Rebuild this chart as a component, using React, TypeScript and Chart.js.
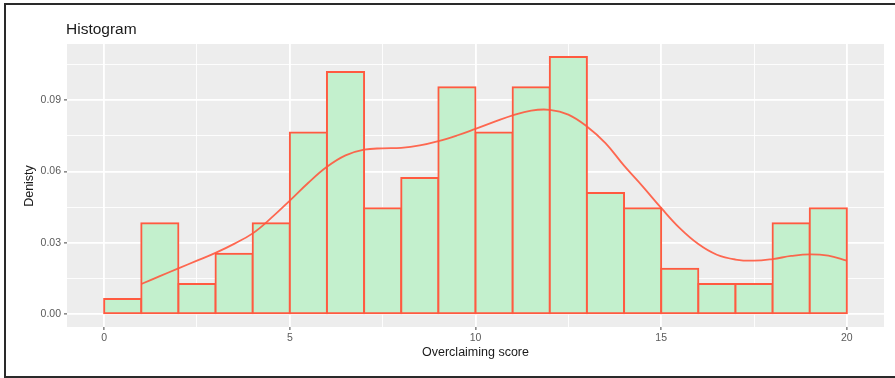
import React, { useEffect, useRef } from "react";
import { Chart, registerables } from "chart.js";

Chart.register(...registerables);

// Histogram bins (width 1) and counts per bin
const binStarts = [0, 1, 2, 3, 4, 5, 6, 7, 8, 9, 10, 11, 12, 13, 14, 15, 16, 17, 18, 19];
const binCounts = [1, 6, 2, 4, 6, 12, 16, 7, 9, 15, 12, 15, 17, 8, 7, 3, 2, 2, 6, 7];

// Kernel density estimate, sampled along the score axis
const densityX = [1, 1.5, 2, 2.5, 3, 3.5, 4, 4.5, 5, 5.5, 6, 6.5, 7, 7.5, 8, 8.5, 9, 9.5, 10, 10.5, 11, 11.5, 12, 12.5, 13, 13.5, 14, 14.5, 15, 15.5, 16, 16.5, 17, 17.5, 18, 18.5, 19, 19.5, 20];
const densityY = [0.0127, 0.016, 0.0193, 0.0225, 0.0258, 0.0296, 0.034, 0.0405, 0.0478, 0.0553, 0.062, 0.0668, 0.0692, 0.0698, 0.07, 0.071, 0.0728, 0.0752, 0.078, 0.0809, 0.0837, 0.0857, 0.086, 0.084, 0.079, 0.072, 0.0625, 0.0538, 0.0447, 0.0362, 0.0295, 0.025, 0.023, 0.0225, 0.0232, 0.0245, 0.0252, 0.0246, 0.0225];

const xTicks = [0, 2.5, 5, 7.5, 10, 12.5, 15, 17.5, 20];
const yTicks = [0, 0.015, 0.03, 0.045, 0.06, 0.075, 0.09, 0.105];

const FONT = "'Liberation Sans', Arial, sans-serif";
const W = 895;
const H = 378;

const panelPlugin = {
  id: "panelText",
  beforeDraw(chart: any) {
    const { ctx, chartArea: a } = chart;
    ctx.save();
    ctx.fillStyle = "#ededed";
    ctx.fillRect(a.left, a.top, a.right - a.left, a.bottom - a.top);
    ctx.restore();
  },
  afterDraw(chart: any) {
    const { ctx, chartArea: a } = chart;
    ctx.save();
    ctx.fillStyle = "#1a1a1a";
    ctx.font = `15.5px ${FONT}`;
    ctx.textAlign = "left";
    ctx.textBaseline = "middle";
    ctx.fillText("Histogram", a.left - 1, 30);

    ctx.font = `12.5px ${FONT}`;
    ctx.textAlign = "center";
    ctx.fillText("Overclaiming score", (a.left + a.right) / 2, 353);

    ctx.translate(30, 186);
    ctx.rotate(-Math.PI / 2);
    ctx.fillText("Denisty", 0, 0);
    ctx.restore();
  },
};

const isMajorX = (v: number) => Math.abs(v % 5) < 1e-9;
const isMajorY = (v: number) => Math.abs(Math.round(v / 0.03) * 0.03 - v) < 1e-9;
const tickVal = (c: any) => (c && c.tick ? Number(c.tick.value) : NaN);

export default function App() {
  const ref = useRef<HTMLCanvasElement>(null);

  useEffect(() => {
    const total = binCounts.reduce((s, c) => s + c, 0);
    const bars = binStarts.map((b, i) => ({ x: b + 0.5, y: binCounts[i] / total }));
    const line = densityX.map((x, i) => ({ x, y: densityY[i] }));

    const chart = new Chart(ref.current!, {
      type: "bar",
      data: {
        datasets: [
          {
            type: "line",
            data: line,
            borderColor: "rgba(255, 88, 62, 0.9)",
            borderWidth: 1.8,
            pointRadius: 0,
            fill: false,
            tension: 0.4,
            order: 0,
          } as any,
          {
            type: "bar",
            data: bars,
            backgroundColor: "#c3f0cd",
            borderColor: "#ff5a40",
            borderWidth: 2,
            borderSkipped: false,
            inflateAmount: 1,
            barPercentage: 1,
            categoryPercentage: 1,
            order: 1,
          } as any,
        ],
      },
      options: {
        animation: false,
        responsive: false,
        events: [],
        layout: { padding: { left: 0, top: 44, right: W - 884, bottom: 0 } },
        plugins: { legend: { display: false }, tooltip: { enabled: false }, title: { display: false } },
        scales: {
          x: {
            type: "linear",
            offset: false,
            min: -1,
            max: 21,
            afterBuildTicks: (s: any) => {
              s.ticks = xTicks.map((v) => ({ value: v }));
            },
            afterFit: (s: any) => {
              s.height = H - 327;
            },
            border: { display: false },
            grid: {
              offset: false,
              color: "#ffffff",
              lineWidth: (c: any) => (isMajorX(tickVal(c)) ? 1.8 : 0.9),
              tickColor: (c: any) => (isMajorX(tickVal(c)) ? "#444" : "rgba(0,0,0,0)"),
              tickLength: 3,
              tickWidth: 1,
            },
            ticks: {
              autoSkip: false,
              maxRotation: 0,
              padding: 2,
              color: "#5a5a5a",
              font: { family: FONT, size: 10.5 },
              callback: (v: any) => (isMajorX(Number(v)) ? String(v) : ""),
            },
          },
          y: {
            type: "linear",
            min: -0.0054,
            max: 0.1137,
            afterBuildTicks: (s: any) => {
              s.ticks = yTicks.map((v) => ({ value: v }));
            },
            afterFit: (s: any) => {
              s.width = 67;
            },
            border: { display: false },
            grid: {
              color: "#ffffff",
              lineWidth: (c: any) => (isMajorY(tickVal(c)) ? 1.8 : 0.9),
              tickColor: (c: any) => (isMajorY(tickVal(c)) ? "#444" : "rgba(0,0,0,0)"),
              tickLength: 3,
              tickWidth: 1,
            },
            ticks: {
              autoSkip: false,
              padding: 3,
              color: "#5a5a5a",
              font: { family: FONT, size: 10.5 },
              callback: (v: any) => (isMajorY(Number(v)) ? Number(v).toFixed(2) : ""),
            },
          },
        },
      },
      plugins: [panelPlugin],
    });
    return () => chart.destroy();
  }, []);

  return (
    <div style={{ position: "fixed", left: 0, top: 0, width: W, height: H, background: "#fff", overflow: "hidden" }}>
      <canvas ref={ref} width={W} height={H} style={{ position: "absolute", left: 0, top: 0, width: W, height: H }} />
      <div
        style={{
          position: "absolute",
          left: 4,
          top: 3,
          width: W + 10,
          height: H - 3,
          boxSizing: "border-box",
          borderLeft: "2px solid #2a2a2a",
          borderTop: "2px solid #2a2a2a",
          borderBottom: "2px solid #2a2a2a",
          pointerEvents: "none",
        }}
      />
    </div>
  );
}
